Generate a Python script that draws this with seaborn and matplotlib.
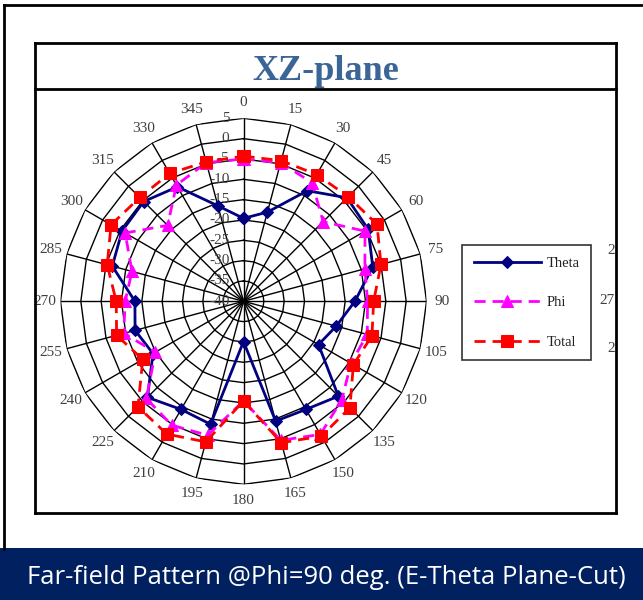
import numpy as np
import pandas as pd
import matplotlib
matplotlib.use("Agg")
import matplotlib.pyplot as plt
import matplotlib.transforms as mtransforms
from matplotlib.lines import Line2D
from matplotlib.patches import Rectangle
import seaborn as sns

# ---------------- data ----------------
angles_deg = [0, 15, 30, 45, 60, 75, 90, 105, 120, 135, 150, 165,
              180, 195, 210, 225, 240, 255, 270, 285, 300, 315, 330, 345]
theta_db = [-19.6, -17.3, -8.6, -4.0, -4.6, -7.1, -12.6, -16.4, -18.7, -7.0, -9.3, -9.5,
            -30.1, -8.7, -9.3, -6.6, -14.3, -12.4, -13.3, -6.6, -5.5, -5.3, -7.5, -15.7]
phi_db = [-5.0, -4.7, -6.3, -12.3, -5.5, -9.1, -9.5, -8.5, -9.5, -5.8, -2.2, -4.6,
          -15.5, -5.9, -4.8, -6.2, -15.0, -9.5, -10.9, -11.6, -6.4, -13.6, -7.0, -4.7]
total_db = [-4.3, -4.2, -4.0, -3.6, -2.1, -5.0, -8.0, -7.3, -8.8, -3.0, -1.7, -4.0,
            -15.5, -4.2, -2.3, -3.3, -11.4, -7.7, -8.7, -5.3, -2.4, -3.9, -3.7, -4.5]
series_names = ["Theta", "Phi", "Total"]
ring_levels = [-35, -30, -25, -20, -15, -10, -5, 0, 5]
radial_labels = [5, 0, -5, -10, -15, -20, -25, -30, -35, -40]
r_min, r_max = -40, 5

title_text = "XZ-plane"
banner_text = "Far-field Pattern @Phi=90 deg. (E-Theta Plane-Cut)"

# ---------------- figure ----------------
W, H = 643, 600
fig = plt.figure(figsize=(W / 100, H / 100), dpi=100)
fig.patch.set_facecolor("white")

def fx(x):
    return x / W

def fy(y):
    return 1 - y / H

cx, cy, R = 243.5, 301.3, 183.0
ax = fig.add_axes([fx(cx - R), fy(cy + R), 2 * R / W, 2 * R / H], projection="polar")
ax.set_theta_zero_location("N")
ax.set_theta_direction(-1)
ax.set_ylim(r_min, r_max)
ax.grid(False)
ax.set_xticks([])
ax.set_yticks([])
ax.spines["polar"].set_visible(False)
ax.patch.set_alpha(0)

th = np.deg2rad(angles_deg)
th_closed = np.append(th, th[0] + 2 * np.pi)

# polygon grid
for lvl in ring_levels:
    ax.plot(th_closed, [lvl] * len(th_closed), color="black", lw=1.0, zorder=1)
for t in th:
    ax.plot([t, t], [r_min, r_max], color="black", lw=1.0, zorder=1)

# data via seaborn
rows = []
for name, vals in zip(series_names, [theta_db, phi_db, total_db]):
    vc = list(vals) + [vals[0]]
    for a, v in zip(th_closed, vc):
        rows.append({"angle": a, "value": v, "series": name})
df = pd.DataFrame(rows)

styles = {
    "Theta": dict(color="#000080", marker="D", markersize=6, linestyle="-", lw=2.0),
    "Phi": dict(color="#FF00FF", marker="^", markersize=8, linestyle=(0, (4, 2.5)), lw=2.0),
    "Total": dict(color="#FF0000", marker="s", markersize=8, linestyle=(0, (4, 2.5)), lw=2.0),
}
for i, name in enumerate(series_names):
    st = styles[name]
    sub = df[df["series"] == name]
    sns.lineplot(data=sub, x="angle", y="value", ax=ax, sort=False, estimator=None,
                 color=st["color"], marker=st["marker"], markersize=st["markersize"],
                 markeredgecolor=st["color"], markerfacecolor=st["color"],
                 linestyle=st["linestyle"], linewidth=st["lw"], label=name,
                 zorder=3 + i, clip_on=False)
ax.set_xlabel("")
ax.set_ylabel("")
if ax.get_legend() is not None:
    ax.get_legend().remove()

serif = ["Liberation Serif", "DejaVu Serif"]
lbl_color = "#404040"

# angle labels
lbl_r = r_max + 16.0 / (R / (r_max - r_min))
for a, t in zip(angles_deg, th):
    ax.text(t, lbl_r, str(a), ha="center", va="center", fontsize=11,
            family=serif, color=lbl_color, clip_on=False, zorder=2)

# radial labels
off = mtransforms.offset_copy(ax.transData, fig=fig, x=-14, y=0, units="dots")
for v in radial_labels:
    ax.text(0, v, str(v), ha="right", va="center", fontsize=11, family=serif,
            color=lbl_color, transform=off, clip_on=False, zorder=2)

# legend
handles, labels = ax.get_legend_handles_labels()
leg = fig.legend(handles, labels, loc="upper left",
                 bbox_to_anchor=(fx(462), fy(245)), borderaxespad=0,
                 prop={"family": serif, "size": 10.5}, handlelength=4.6,
                 labelspacing=1.8, borderpad=0.8, handletextpad=0.4,
                 fancybox=False, frameon=True, edgecolor="black", numpoints=1)
leg.get_frame().set_linewidth(1.2)
for txt in leg.get_texts():
    txt.set_color("#222222")

# frames
def fline(x0, y0, x1, y1, lw=2.0):
    fig.add_artist(Line2D([fx(x0), fx(x1)], [fy(y0), fy(y1)], color="black",
                          lw=lw, transform=fig.transFigure, zorder=20))

# outer frame
fline(4, 5, 643, 5)
fline(4, 5, 4, 549)
# inner box
fline(35, 43, 616, 43)
fline(35, 43, 35, 513)
fline(616, 43, 616, 513)
fline(35, 513, 616, 513)
fline(35, 89, 616, 89)

fig.text(fx(326), fy(79.5), title_text, ha="center", va="baseline", fontsize=26,
         fontweight="bold", family=serif, color="#3B6596")

# clipped labels of neighbouring chart
for y, s in [(251, "2"), (300, "27"), (348, "2")]:
    fig.text(fx(615), fy(y), s, ha="right", va="center", fontsize=11,
             family=serif, color=lbl_color)

# banner
fig.add_artist(Rectangle((0, fy(600)), 1, fy(548) - fy(600), transform=fig.transFigure,
                         facecolor="#002060", edgecolor="none", zorder=15))
fig.text(fx(326), fy(578), banner_text, ha="center", va="center", fontsize=18.5,
         family=["Open Sans", "DejaVu Sans"], color="white", zorder=25)

fig.savefig("out.png", dpi=100)
